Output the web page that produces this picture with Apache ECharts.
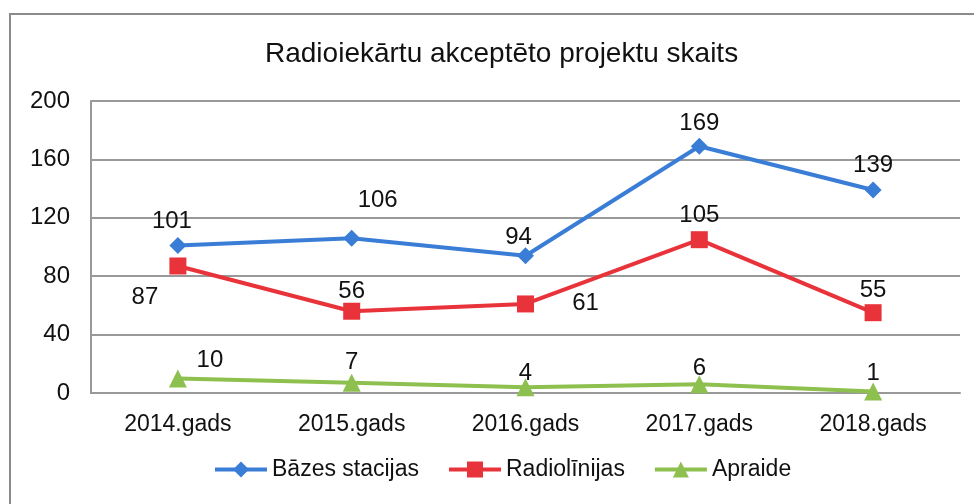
<!DOCTYPE html>
<html>
<head>
<meta charset="utf-8">
<script src="https://cdn.jsdelivr.net/npm/echarts@6/dist/echarts.min.js"></script>
<style>
  html, body { margin: 0; padding: 0; background: #fff; }
  #chart { width: 974px; height: 504px; }
</style>
</head>
<body>
<div id="chart"></div>
<script>
var years = ['2014.gads', '2015.gads', '2016.gads', '2017.gads', '2018.gads'];
var bazesStacijas = [101, 106, 94, 169, 139];
var radiolinijas = [87, 56, 61, 105, 55];
var apraide = [10, 7, 4, 6, 1];

// label nudges so numbers sit where the original puts them
var bazesOffsets = [[-6, 1], [26, -12], [-7, 7], [0, 3], [0, 1]];
var radioOffsets = [[-33, 57], [0, 6], [60, 25], [0, 1], [0, 3]];
var apraideOffsets = [[32, 8], [0, 6], [0, 12], [0, 10], [0, 8]];

var font = 'Liberation Sans';

function withLabels(values, offsets) {
  return values.map(function (v, i) {
    return { value: v, label: { offset: offsets[i] } };
  });
}

function lineSeries(name, values, offsets, color, symbol) {
  return {
    name: name,
    type: 'line',
    data: withLabels(values, offsets),
    symbol: symbol,
    symbolSize: symbol == 'triangle' ? 18 : 17,
    lineStyle: { color: color, width: 4 },
    itemStyle: { color: color },
    label: {
      show: true,
      position: 'top',
      color: '#111',
      fontFamily: font,
      fontSize: 24
    }
  };
}

var myChart = echarts.init(document.getElementById('chart'));
myChart.setOption({
  animation: false,
  title: {
    text: 'Radioiekārtu akceptēto projektu skaits',
    left: 260,
    top: 35,
    textStyle: { fontFamily: font, fontSize: 28, fontWeight: 'normal', color: '#111' }
  },
  graphic: [{
    type: 'rect',
    shape: { x: 10, y: 14, width: 1000, height: 600 },
    style: { fill: null, stroke: '#8a8a8a', lineWidth: 2 },
    silent: true
  }],
  grid: { left: 91, right: 14, top: 101, bottom: 111 },
  legend: {
    bottom: 18,
    left: 208,
    itemWidth: 52,
    itemHeight: 20,
    itemGap: 28,
    lineStyle: { width: 4 },
    textStyle: { fontFamily: font, fontSize: 23, color: '#111' },
    data: ['Bāzes stacijas', 'Radiolīnijas', 'Apraide']
  },
  xAxis: {
    type: 'category',
    data: years,
    axisLine: { lineStyle: { color: '#999', width: 2 } },
    axisTick: { show: false },
    axisLabel: { fontFamily: font, fontSize: 23, color: '#111', margin: 20 }
  },
  yAxis: {
    type: 'value',
    min: 0,
    max: 200,
    interval: 40,
    axisLine: { show: true, lineStyle: { color: '#999', width: 2 } },
    axisTick: { show: false },
    axisLabel: { fontFamily: font, fontSize: 24, color: '#111', margin: 21 },
    splitLine: { lineStyle: { color: '#999', width: 2 } }
  },
  series: [
    lineSeries('Bāzes stacijas', bazesStacijas, bazesOffsets, '#3a7dd6', 'diamond'),
    lineSeries('Radiolīnijas', radiolinijas, radioOffsets, '#e8333a', 'rect'),
    lineSeries('Apraide', apraide, apraideOffsets, '#8dc04e', 'triangle')
  ]
});
</script>
</body>
</html>
